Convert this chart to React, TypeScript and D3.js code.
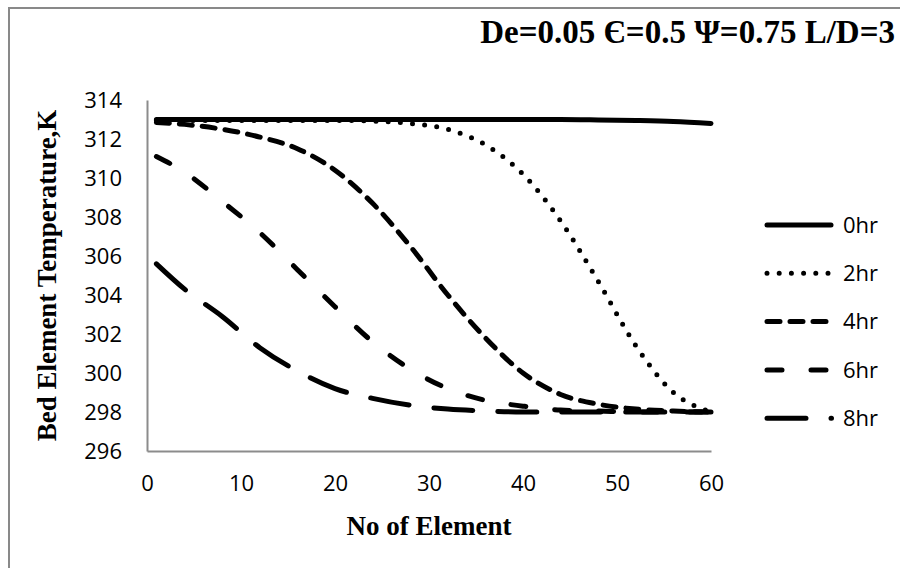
import { useEffect, useRef } from 'react';
import * as d3 from 'd3';

const W = 900;
const H = 568;

const TITLE = 'De=0.05 Є=0.5 Ψ=0.75 L/D=3';
const X_LABEL = 'No of Element';
const Y_LABEL = 'Bed Element Temperature,K';

const ELEMENTS = [1, 4, 8, 12, 16, 20, 24, 28, 32, 36, 40, 44, 48, 52, 56, 60];
const HR0 = [313.0, 313.0, 313.0, 313.0, 313.0, 313.0, 313.0, 313.0, 313.0, 313.0, 313.0, 313.0, 312.98, 312.95, 312.9, 312.8];
const HR2 = [312.95, 312.95, 312.95, 312.95, 312.95, 312.95, 312.92, 312.8, 312.5, 311.7, 310.2, 307.8, 304.7, 301.4, 299.0, 298.0];
const HR4 = [312.85, 312.75, 312.5, 312.1, 311.5, 310.4, 308.7, 306.5, 304.0, 301.8, 300.0, 298.9, 298.4, 298.15, 298.05, 298.0];
const HR6 = [311.1, 310.3, 308.8, 307.2, 305.3, 303.4, 301.6, 300.2, 299.2, 298.6, 298.3, 298.1, 298.05, 298.0, 298.0, 298.0];
const HR8 = [305.6, 304.3, 302.9, 301.3, 300.1, 299.2, 298.7, 298.35, 298.15, 298.05, 298.0, 298.0, 298.0, 298.0, 298.0, 298.0];

const SERIES_NAMES = ['0hr', '2hr', '4hr', '6hr', '8hr'];
const SERIES_VALUES = [HR0, HR2, HR4, HR6, HR8];
const DASHES = ['none', '0,12.2', '13,10', '15,29', '39,25'];

const X_TICKS = [0, 10, 20, 30, 40, 50, 60];
const Y_TICKS = [296, 298, 300, 302, 304, 306, 308, 310, 312, 314];

export default function App() {
  const svgRef = useRef<SVGSVGElement>(null);

  useEffect(() => {
    const svg = d3.select(svgRef.current);
    svg.selectAll('*').remove();

    const plot = { left: 147, right: 711, top: 100, bottom: 451 };
    const x = d3.scaleLinear().domain([0, 60]).range([plot.left, plot.right]);
    const y = d3.scaleLinear().domain([296, 314]).range([plot.bottom, plot.top]);

    svg.append('rect').attr('x', 9).attr('y', 8).attr('width', 1000).attr('height', 700)
      .attr('fill', 'white').attr('stroke', '#898989').attr('stroke-width', 2);

    // axes: gray lines, no tick marks
    const xAxis = svg.append('g').attr('transform', `translate(0,${plot.bottom})`)
      .call(d3.axisBottom(x).tickValues(X_TICKS).tickSize(0).tickPadding(24));
    xAxis.select('.domain').attr('stroke', '#8c8c8c').attr('stroke-width', 2);
    xAxis.selectAll('text').attr('font-family', '"Open Sans", sans-serif').attr('font-size', 22).attr('fill', '#000');

    const yAxis = svg.append('g').attr('transform', `translate(${plot.left},0)`)
      .call(d3.axisLeft(y).tickValues(Y_TICKS).tickSize(0).tickPadding(25));
    yAxis.select('.domain').attr('stroke', '#8c8c8c').attr('stroke-width', 2);
    yAxis.selectAll('text').attr('font-family', '"Open Sans", sans-serif').attr('font-size', 22).attr('fill', '#000');

    const line = d3.line<number>()
      .x((_, i) => x(ELEMENTS[i]))
      .y((v) => y(v))
      .curve(d3.curveMonotoneX);

    SERIES_VALUES.forEach((vals, i) => {
      svg.append('path').attr('d', line(vals))
        .attr('fill', 'none').attr('stroke', '#000').attr('stroke-width', 5)
        .attr('stroke-linecap', 'round').attr('stroke-linejoin', 'round')
        .attr('stroke-dasharray', DASHES[i]);
    });

    // legend
    const leg = svg.append('g');
    SERIES_NAMES.forEach((name, i) => {
      const ly = 225 + i * 48.3;
      leg.append('path').attr('d', `M767,${ly}H${i === 4 ? 831.5 : 831}`)
        .attr('fill', 'none').attr('stroke', '#000').attr('stroke-width', 5)
        .attr('stroke-linecap', 'round')
        .attr('stroke-dasharray', i === 4 ? '39,25,0.5,100' : DASHES[i]);
      leg.append('text').attr('x', 843).attr('y', ly).attr('dy', '0.35em')
        .attr('font-family', '"Open Sans", sans-serif').attr('font-size', 22).text(name);
    });

    svg.append('text').attr('x', 429).attr('y', 535).attr('text-anchor', 'middle')
      .attr('font-family', '"Liberation Serif", serif').attr('font-weight', 'bold').attr('font-size', 27)
      .text(X_LABEL);

    svg.append('text').attr('transform', `translate(56,${(plot.top + plot.bottom) / 2}) rotate(-90)`)
      .attr('text-anchor', 'middle')
      .attr('font-family', '"Liberation Serif", serif').attr('font-weight', 'bold').attr('font-size', 27)
      .text(Y_LABEL);

    svg.append('text').attr('x', 895).attr('y', 43).attr('text-anchor', 'end')
      .attr('font-family', '"Liberation Serif", serif').attr('font-weight', 'bold').attr('font-size', 33)
      .text(TITLE);
  }, []);

  return (
    <svg ref={svgRef} width={W} height={H}
      style={{ position: 'absolute', left: 0, top: 0, background: '#fff' }} />
  );
}
